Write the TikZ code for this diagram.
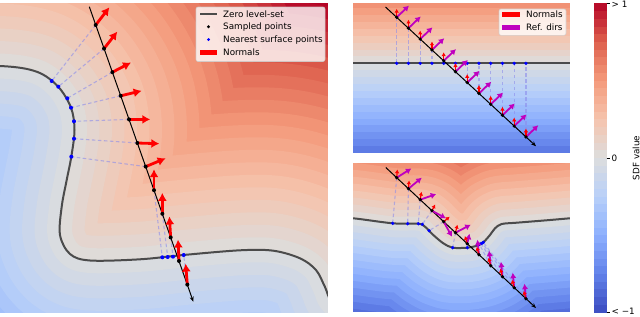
\documentclass[tikz,border=0pt]{standalone}
\usepackage{fontspec}
\setmainfont{DejaVu Sans}
\usetikzlibrary{positioning,arrows.meta,calc}

% coolwarm colour map, nine anchors
\definecolor{cw0}{RGB}{59,76,192}
\definecolor{cw1}{RGB}{98,130,234}
\definecolor{cw2}{RGB}{141,176,254}
\definecolor{cw3}{RGB}{184,208,249}
\definecolor{cw4}{RGB}{221,221,221}
\definecolor{cw5}{RGB}{245,196,173}
\definecolor{cw6}{RGB}{244,154,123}
\definecolor{cw7}{RGB}{222,96,77}
\definecolor{cw8}{RGB}{180,4,38}
\definecolor{levelgrey}{RGB}{75,75,75}
\definecolor{projblue}{RGB}{140,140,235}
\definecolor{refmag}{RGB}{191,0,191}
\definecolor{lgdedge}{RGB}{204,204,204}

\newcommand\cwcolor[2]{%
  \pgfmathsetmacro\sdfS{min(max(#2,0),0.9999)*8}%
  \pgfmathtruncatemacro\sdfA{\sdfS}%
  \pgfmathtruncatemacro\sdfB{\sdfA+1}%
  \pgfmathtruncatemacro\sdfP{round((\sdfS-\sdfA)*100)}%
  \colorlet{#1}{cw\sdfB!\sdfP!cw\sdfA}}

% distance bands on one side of a level set: path, bands, step, side
\newcommand\sdfbands[4]{%
  \foreach \k in {#2,...,1}{%
    \pgfmathsetmacro\sdfT{0.5+#4*0.5*(\k-0.5)/#2}%
    \pgfmathsetmacro\sdfW{2*\k*#3}%
    \cwcolor{bandc}{\sdfT}%
    \draw[bandc,line width=\sdfW pt,line join=round,line cap=round] #1;
  }}

% zero level-sets
\newcommand\curveL{plot[smooth,tension=0.55] coordinates {(-80,66) (0,66)
  (36.7,71.7) (58,86.5) (71,107.7) (74.5,130) (71.3,156.7) (66.7,180)
  (61.7,206.7) (60,235) (70,254) (90,260.5) (140,259.3) (183.3,255)
  (240,250.3) (273.3,250.7) (300,258.3) (316,270) (325,287) (333,303)
  (360,318) (420,322)}}
\newcommand\curveT{(330,63.3) -- (590,63.3)}
\newcommand\curveB{plot[smooth,tension=0.5] coordinates {(330,217.5)
  (353.3,218.3) (392.7,223.3) (418.3,223.7) (425,226.7) (433.3,235)
  (443.3,243.3) (452.7,247.7) (467.3,247.7) (476.7,245.7) (483.3,242.3)
  (490,235) (495,228.3) (501.7,224) (516.7,222.7) (550,220) (590,216.5)}}

\tikzset{
  plotfont/.style={font=\fontsize{8.8}{10}\selectfont},
  lvl/.style={levelgrey,line width=2pt},
  ray/.style={black,line width=1pt,-{Stealth[length=5pt,width=4pt]}},
  proj/.style={projblue,line width=1.1pt,dash pattern=on 3.5pt off 2.5pt,opacity=0.6},
  nrm/.style={red,line width=2.8pt,-{Latex[length=8pt,width=9pt]}},
  snrm/.style={red,line width=1.2pt,-{Latex[length=3.8pt,width=4.5pt]}},
  rdir/.style={refmag,line width=1.8pt,-{Latex[length=5.5pt,width=6.5pt]}},
  spt/.style={black},
  npt/.style={blue},
  trim/.style={white,line width=3pt},
  lgdframe/.style={fill=white,fill opacity=0.8,draw=lgdedge,draw opacity=0.8,
                   line width=0.6pt,rounded corners=2pt},
  lgdtext/.style={plotfont,anchor=west,inner sep=0pt},
}

\begin{document}
\begin{tikzpicture}[x=1pt,y=-1pt,plotfont]
\useasboundingbox (0,0) rectangle (640,316);

% ---- left panel
\begin{scope}
  \clip (-1.5,1.5) rectangle (329.5,314.5);
  \begin{scope}
    \clip \curveL -- (420,-60) -- (-80,-60) -- cycle;
    \fill[cw8] (-80,-60) rectangle (420,345);
    \sdfbands{\curveL}{20}{12.5}{1}
  \end{scope}
  \begin{scope}
    \clip \curveL -- (420,345) -- (-80,345) -- cycle;
    \fill[cw0] (-80,-60) rectangle (420,345);
    \sdfbands{\curveL}{20}{12.5}{-1}
  \end{scope}
  \draw[lvl] \curveL;
\end{scope}
\draw[trim] (-1.5,1.5) rectangle (329.5,314.5);

\foreach \i in {0,...,11}
  \coordinate (lp\i) at ({95.7+8.33*\i},{25+23.6*\i});
\foreach \i/\sx/\sy in {0/51.7/81,1/58.3/86.7,2/67.3/98.3,3/71/107.7,4/74/121.3,
    5/74/138.7,6/71.3/156.7,7/162.3/257.3,8/167.7/257,9/173/256.7,11/183.7/255}{
  \coordinate (ls\i) at (\sx,\sy);
  \draw[proj] (lp\i) -- (ls\i);
  \fill[npt] (ls\i) circle (2pt);
}
\coordinate (lr0) at (89.3,6.7);
\coordinate (lr1) at (193.3,301.7);
\draw[ray] (lr0) -- (lr1);
\foreach \i/\dx/\dy in {0/13.7/-17.7,1/13.3/-17,2/18.7/-9.7,3/21/-5,4/21.3/0,
    5/22/0.7,6/20/-8.3,7/0/-21,8/0/-21,9/-1.3/-21,10/-1/-21.5,11/-1.7/-21}
  \draw[nrm] (lp\i) -- ++(\dx,\dy);
\foreach \i in {0,...,11}
  \fill[spt] (lp\i) circle (2pt);

% legend
\draw[lgdframe] (196,7) rectangle (325,61.5);
\draw[lvl] (200,14.3) -- (217,14.3);
\node[lgdtext] (lgzero) at (223,14.3) {Zero level-set};
\fill[spt] (208.5,26.8) circle (1.6pt);
\node[lgdtext] (lgsamp) at (223,26.8) {Sampled points};
\fill[npt] (208.5,39.6) circle (1.6pt);
\node[lgdtext] (lgnear) at (223,39.6) {Nearest surface points};
\fill[red] (200,49.6) rectangle (217,54.6);
\node[lgdtext] (lgnorm) at (223,52.3) {Normals};

% ---- top right panel
\begin{scope}
  \clip (351.8,1.8) rectangle (571.5,154.2);
  \begin{scope}
    \clip (330,-20) rectangle (590,63.3);
    \fill[cw8] (330,-20) rectangle (590,63.3);
    \sdfbands{\curveT}{16}{6.9}{1}
  \end{scope}
  \begin{scope}
    \clip (330,63.3) rectangle (590,330);
    \fill[cw0] (330,63.3) rectangle (590,330);
    \sdfbands{\curveT}{16}{6.9}{-1}
  \end{scope}
  \draw[lvl] \curveT;
\end{scope}
\draw[trim] (351.8,1.8) rectangle (571.5,154.2);

\foreach \i in {0,...,11}{
  \coordinate (tp\i) at ({396.7+11.75*\i},{17.3+10.88*\i});
  \coordinate (ts\i) at ({396.7+11.75*\i},63.3);
  \draw[proj] (tp\i) -- (ts\i);
  \fill[npt] (ts\i) circle (1.8pt);
}
\coordinate (tr0) at (385.5,7);
\coordinate (tr1) at (536,146.2);
\draw[ray] (tr0) -- (tr1);
\foreach \i in {0,...,11}{
  \draw[rdir] (tp\i) -- ++(12.3,-11.7);
  \draw[snrm] (tp\i) -- ++(0,-8.5);
  \fill[spt] (tp\i) circle (1.8pt);
}

% legend
\draw[lgdframe] (499,9) rectangle (566,35.3);
\fill[red] (502.3,12.3) rectangle (520,17.3);
\node[lgdtext] (lgnormr) at (526,14.7) {Normals};
\fill[refmag] (502.3,24.7) rectangle (520,29.7);
\node[lgdtext] (lgref) at (526,27.2) {Ref. dirs};

% ---- bottom right panel
\begin{scope}
  \clip (351.8,161.8) rectangle (571.5,313.8);
  \begin{scope}
    \clip \curveB -- (590,140) -- (330,140) -- cycle;
    \fill[cw8] (330,140) rectangle (590,330);
    \sdfbands{\curveB}{16}{6.9}{1}
  \end{scope}
  \begin{scope}
    \clip \curveB -- (590,330) -- (330,330) -- cycle;
    \fill[cw0] (330,140) rectangle (590,330);
    \sdfbands{\curveB}{16}{6.9}{-1}
  \end{scope}
  \draw[lvl] \curveB;
\end{scope}
\draw[trim] (351.8,161.8) rectangle (571.5,313.8);

\foreach \i in {0,...,11}
  \coordinate (bp\i) at ({396.7+11.75*\i},{177.7+11*\i});
\foreach \i/\sx/\sy in {0/392.7/223.3,1/407.7/223.7,2/418.3/223.7,3/422.3/224.3,
    4/429/230.7,5/452.7/247.7,6/467.3/247.7,7/478/245,8/479.5/244.3,
    9/481/243.6,10/482.3/243,11/483.3/242.3}{
  \coordinate (bs\i) at (\sx,\sy);
  \draw[proj] (bp\i) -- (bs\i);
}
\foreach \i in {0,...,11}
  \fill[npt] (bs\i) circle (1.8pt);
\coordinate (br0) at (385.8,167.5);
\coordinate (br1) at (536,308);
\draw[ray] (br0) -- (br1);
\foreach \i/\mx/\my/\rx/\ry in {0/14.7/-9.3/0.7/-8.3,1/13.3/-11/0.7/-8.3,
    2/16/-5.7/1.3/-8,3/14/7.7/3.3/-6.3,4/8.3/15/6/-5,5/15.3/-8/2/-8,
    6/2.3/-10/-2.3/-7.7,7/-1.5/-15/-2.3/-8,8/-1.5/-15/-2.3/-8,
    9/-1.5/-15/-2.3/-8,10/-1.5/-15/-2.3/-8,11/-1.5/-15/-2.3/-8}{
  \draw[rdir] (bp\i) -- ++(\mx,\my);
  \draw[snrm] (bp\i) -- ++(\rx,\ry);
}
\foreach \i in {0,...,11}
  \fill[spt] (bp\i) circle (1.8pt);

% ---- colour bar
\foreach \j in {0,...,39}{
  \pgfmathsetmacro\sdfT{1-(\j+0.5)/40}
  \cwcolor{barc}{\sdfT}
  \fill[barc] (594,{3.3+\j*7.735}) rectangle (606.5,{3.3+(\j+1)*7.735+0.3});
}
\foreach \y in {3.3,158,312.7}
  \draw[line width=0.6pt] (606.5,\y) -- ++(3,0);
\node[lgdtext] (cbtop) at (611.5,4.5) {> 1};
\node[lgdtext] (cbmid) at (611.5,158) {0};
\node[lgdtext] (cbbot) at (611.5,311.5) {< −1};
\node[plotfont,rotate=90] (cblabel) at (636,158) {SDF value};

\end{tikzpicture}
\end{document}
